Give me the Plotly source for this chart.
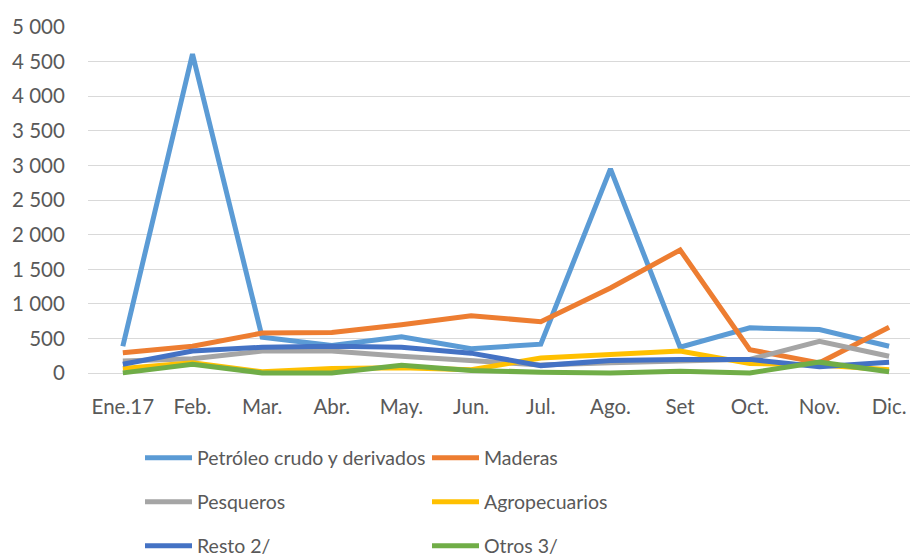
import plotly.graph_objects as go

months = ["Ene.17", "Feb.", "Mar.", "Abr.", "May.", "Jun.", "Jul.", "Ago.", "Set", "Oct.", "Nov.", "Dic."]

petroleo = [390, 4610, 520, 400, 525, 355, 420, 2950, 375, 655, 630, 390]
maderas = [295, 390, 580, 590, 700, 830, 745, 1230, 1780, 340, 150, 665]
pesqueros = [175, 210, 320, 320, 245, 180, 120, 150, 170, 200, 460, 245]
agropecuarios = [70, 150, 20, 70, 80, 50, 220, 270, 320, 140, 120, 50]
resto = [130, 320, 375, 390, 375, 290, 110, 185, 200, 200, 95, 160]
otros = [5, 130, 5, 5, 115, 40, 15, 5, 30, 5, 160, 20]

series = [
    ("Petróleo crudo y derivados", petroleo, "#5B9BD5", "legend"),
    ("Maderas", maderas, "#ED7D31", "legend"),
    ("Pesqueros", pesqueros, "#A5A5A5", "legend2"),
    ("Agropecuarios", agropecuarios, "#FFC000", "legend2"),
    ("Resto 2/", resto, "#4472C4", "legend3"),
    ("Otros 3/", otros, "#70AD47", "legend3"),
]

FONT = "Lato"
TXT = "#595959"
W, H = 910, 555

fig = go.Figure()
for name, vals, color, lg in series:
    fig.add_trace(go.Scatter(
        x=months, y=vals, name=name, mode="lines",
        line=dict(color=color, width=5),
        legend=lg,
    ))

tickvals = [0, 500, 1000, 1500, 2000, 2500, 3000, 3500, 4000, 4500, 5000]
ticktext = [f"{v:,}".replace(",", " ") for v in tickvals]

legend_common = dict(
    orientation="h", xref="container", yref="container",
    xanchor="left", yanchor="middle", x=(148 - 8) / W,
    entrywidth=225, entrywidthmode="pixels", itemwidth=47,
    font=dict(family=FONT, size=19.5, color=TXT),
    bgcolor="rgba(0,0,0,0)", borderwidth=0,
)

fig.update_layout(
    width=W, height=H,
    margin=dict(l=88, r=0, t=27, b=H - 376),
    paper_bgcolor="white", plot_bgcolor="white",
    font=dict(family=FONT, size=20.5, color=TXT),
    showlegend=True,
    legend=dict(**legend_common, y=1 - 458 / H),
    legend2=dict(**legend_common, y=1 - 502 / H),
    legend3=dict(**legend_common, y=1 - 546 / H),
    xaxis=dict(
        type="category", range=[-0.5, 11.3],
        showgrid=False, showline=False, zeroline=False,
        ticks="outside", ticklen=12, tickcolor="rgba(0,0,0,0)",
        tickfont=dict(family=FONT, size=20.5, color=TXT),
    ),
    yaxis=dict(
        range=[-40, 5000], tickvals=tickvals, ticktext=ticktext,
        showgrid=True, gridcolor="#D9D9D9", gridwidth=1.3,
        zeroline=False, showline=False,
        ticks="outside", ticklen=18, tickcolor="rgba(0,0,0,0)",
        tickfont=dict(family=FONT, size=20.5, color=TXT),
    ),
)

fig.write_html(
    "out.html",
    config={"displayModeBar": False},
    post_script="document.body.style.margin='0';document.body.style.overflow='hidden';",
)
